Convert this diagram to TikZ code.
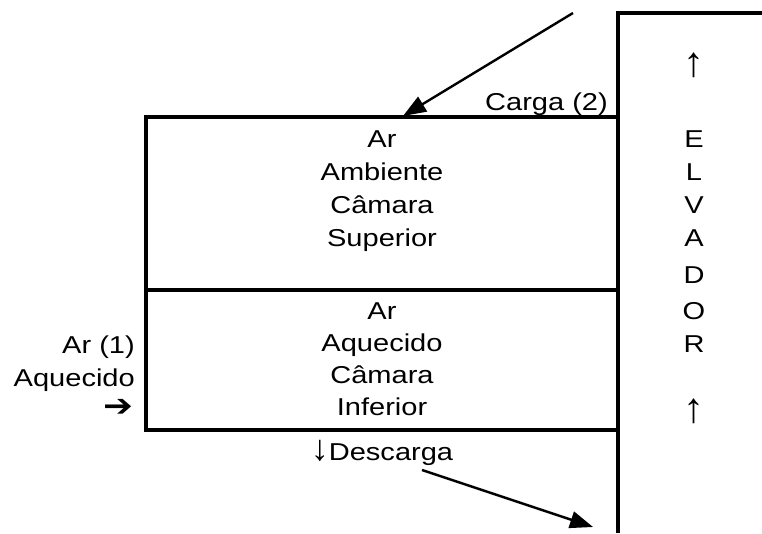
\documentclass[tikz,border=0pt]{standalone}
\usepackage{fontspec}
\setmainfont{Liberation Sans}[FakeStretch=1.19]
\newfontfamily\symbfont{DejaVu Sans}[FakeStretch=1.15]
\newfontfamily\setafont{Liberation Sans}
\usetikzlibrary{arrows.meta}
\begin{document}
\begin{tikzpicture}[x=1pt,y=-1pt,font=\fontsize{24.4}{33}\selectfont,>={Triangle[length=23pt,width=17pt]},
	txt/.style={anchor=base,inner sep=0pt},
	seta/.style={inner sep=0pt,font=\setafont\fontsize{42}{42}\selectfont}]
				\def\xl{146}
				\def\xr{618}
				\def\xm{382}
				\useasboundingbox (0,0) rectangle (762,533);
				\draw[line width=3.3pt]
				(\xl,117) rectangle (\xr,430)
				(\xl,290)--(\xr,290)
				(\xr,533)--(\xr,13)--(762,13)
				;
				\path
				(\xm,147.5) node[txt] (arSup) {Ar}
				(\xm,180.5) node[txt] (ambiente) {Ambiente}
				(\xm,213.5) node[txt] (camSup) {Câmara}
				(\xm,246.5) node[txt] (superior) {Superior}
				(\xm,319) node[txt] (arInf) {Ar}
				(\xm,351.5) node[txt] (aquecido) {Aquecido}
				(\xm,383) node[txt] (camInf) {Câmara}
				(\xm,415) node[txt] (inferior) {Inferior}
				(\xm,460) node[txt] (descarga) {{\setafont\fontsize{36}{33}\selectfont ↓}Descarga}
				(608,110) node[txt,anchor=base east] (carga) {Carga (2)}
				(135,353) node[txt,anchor=base east] (arUm) {Ar (1)}
				(135,386) node[txt,anchor=base east] (aqEsq) {Aquecido}
				(134,408) node[txt,anchor=east] (entrada) {\symbfont\fontsize{31}{31}\selectfont ➔}
				(694,65) node[seta] (sobeA) {↑}
				(694,411) node[seta] (sobeB) {↑}
				;
				\foreach \l/\y [count=\i] in {E/147.5,L/180.5,V/213.5,A/246.5,D/283,O/319,R/352}
				\path (694,\y) node[txt] (elv\i) {\l};
				\coordinate (cIni) at (573,13);
				\coordinate (cFim) at (403,116);
				\coordinate (dIni) at (422,470);
				\coordinate (dFim) at (593,527);
				\draw[->,line width=2.4pt] (cIni)--(cFim);
				\draw[->,line width=2.4pt] (dIni)--(dFim);
		\end{tikzpicture}
\end{document}
